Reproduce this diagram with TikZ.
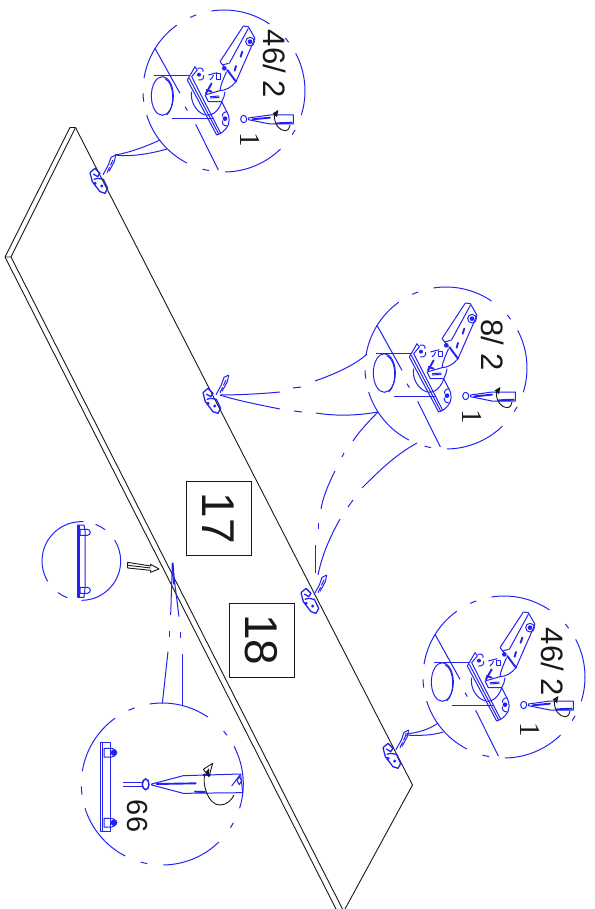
\documentclass[tikz,border=0pt]{standalone}
\usepackage{fontspec}
\setmainfont{Liberation Sans}
\newfontfamily\serifone{Liberation Serif}
\definecolor{hb}{RGB}{35,35,240}
\definecolor{ink}{RGB}{25,25,25}
\tikzset{
  bl/.style={draw=hb,line width=1pt,line join=round},
  blt/.style={draw=hb,line width=1.9pt,line cap=round},
  kk/.style={draw=ink,line width=.9pt,line join=round},
  numbox/.style={draw=ink,line width=.8pt,minimum width=74pt,minimum height=65pt,inner sep=0pt,rotate=-90,font=\fontsize{46}{46}\selectfont,text=ink},
  lab/.style={rotate=-90,text=ink,inner sep=0pt,font=\fontsize{31}{31}\selectfont},
  one/.style={rotate=-90,text=ink,inner sep=0pt,font=\serifone\fontsize{29}{29}\selectfont},
}
\newcommand{\dashring}[3]{%
  \foreach \a/\b in {-99/-55.8,-114.6/-110,-125.7/-170.9,172.5/178.3,162.6/117.2,100.6/105.4,89.3/45.7,28.6/32.6,17.4/-27.7,-40.8/-37}
    {\draw[bl] (#1,#2) ++(\a:#3pt) arc[start angle=\a,end angle=\b,radius=#3pt];}}
\newcommand{\bigfitting}[2]{%
  \dashring{#1}{#2}{81}
  \begin{scope}[shift={(#1,#2)},scale=1/3,shift={(-282,-273)}]
    % cup
    \draw[bl] (97,288) ellipse[x radius=33,y radius=58];
    \draw[bl] (105,236) .. controls (135,250) and (135,325) .. (110,345);
    \draw[bl] (72,228) -- (178,228);
    \draw[bl] (125,357) -- (250,357);
    \draw[bl] (75,145) -- (150,280);
    \draw[bl] (197,373) -- (265,510);
    % plate
    \draw[bl] (172,240) -- (195,200) -- (202,210) -- (185,230) -- (272,400) -- (260,405) -- cycle;
    \draw[bl] (178,235) -- (266,402);
    \draw[bl] (185,275) .. controls (180,300) and (195,335) .. (225,345);
    \draw[bl] (228,345) .. controls (250,350) and (270,325) .. (275,305) .. controls (280,295) and (285,285) .. (285,275);
    \draw[bl] (275,305) -- (295,345) .. controls (302,365) and (295,385) .. (272,400);
    \draw[bl] (165,320) -- (172,332);
    \fill[hb] (207,224) circle[radius=6];
    \fill[hb] (285,356) circle[radius=7];
    \draw[bl] (203,205) .. controls (218,200) and (222,212) .. (218,215);
    \draw[bl] (205,240) .. controls (218,242) and (224,232) .. (220,226);
    \draw[bl] (292,335) .. controls (280,335) and (275,345) .. (278,350);
    \draw[bl] (292,378) .. controls (280,378) and (275,370) .. (278,362);
    % link and arm
    \draw[bl] (235,225) -- (262,218);
    \draw[bl] (240,240) .. controls (240,232) and (248,240) .. (250,225);
    \draw[bl] (258,222) rectangle (272,238);
    \draw[bl] (270,185) -- (340,78) -- (355,80) -- (375,115) -- (318,245);
    \draw[bl] (270,185) -- (282,200);
    \draw[bl] (355,85) -- (298,190);
    \draw[blt] (292,210) -- (318,245);
    \fill[hb] (283,205) circle[radius=7];
    \draw[bl] (277,195) -- (296,190);
    \fill[hb] (360,125) circle[radius=7];
    \draw[bl] (360,125) circle[radius=13];
    \draw[blt] (337,155) -- (332,170);
    \draw[blt] (318,198) -- (314,212);
    \draw[bl] (318,245) .. controls (305,262) and (285,272) .. (270,272) -- (225,285);
    \draw[bl] (225,285) -- (235,305) -- (275,305);
    \draw[bl] (290,215) .. controls (280,235) and (270,262) .. (270,272);
    \draw[blt] (245,250) -- (228,280);
    \draw[blt] (230,270) -- (245,275);
    \draw[bl] (240,290) -- (268,288);
    \draw[bl] (240,294) -- (268,292);
    % drill
    \draw[bl] (341,357) ellipse[x radius=9,y radius=11];
    \draw[bl] (355,354) -- (420,345) -- (490,345) -- (490,372) -- (420,372) -- (355,359) -- cycle;
    \draw[blt] (368,358) -- (420,353);
    \draw[blt] (440,370) -- (485,368);
    \draw[kk] (433,345) .. controls (432,375) and (450,392) .. (465,392) .. controls (475,392) and (480,382) .. (480,375);
    \fill[ink] (428,340) -- (445,330) -- (441,352) -- cycle;
  \end{scope}}
\newcommand{\tinyhinge}[2]{%
  \begin{scope}[shift={(#1,#2)},scale=1/3,shift={(-36,-105)}]
    \draw[draw=hb,line width=1.3pt,line join=round] (15,68) -- (30,55) -- (45,70) -- (38,80) -- (25,72);
    \draw[draw=hb,line width=1.3pt,line join=round] (15,68) -- (22,95) -- (45,125) -- (60,130) -- (68,115) -- (55,88) -- (38,85) -- (26,88);
    \fill[hb] (30,100) circle[radius=5];
    \fill[hb] (50,108) circle[radius=5];
    \draw[bl] (54,74) -- (70,45) -- (78,22) -- (92,15);
    \draw[bl] (92,15) -- (88,35) -- (72,64);
    \draw[bl,dashed,dash pattern=on 6pt off 2pt] (66,68) -- (85,28);
  \end{scope}}
\begin{document}
\begin{tikzpicture}[x=1pt,y=1pt,yscale=-1]
\useasboundingbox (0,0) rectangle (594,909);
% panel
\draw[kk] (70,127.5) -- (75.5,127.5) -- (412.5,785) -- (345,909);
\draw[kk] (70,127.5) -- (5,257) -- (336,909);
\draw[kk] (75.5,127.5) -- (11,257) -- (5,257);
\draw[kk] (11,257) -- (342.5,909);
% number boxes
\node[numbox] (n17) at (218.8,518.5) {17};
\node[numbox] (n18) at (261.5,640) {18};
% hinges on the panel
\tinyhinge{97}{185}
\tinyhinge{210}{405}
\tinyhinge{308}{605}
\tinyhinge{390}{760}
% magnified fittings
\bigfitting{224}{91}
\bigfitting{446}{368}
\bigfitting{504}{677}
\node[lab] (t1) at (275,64) {46/\kern8pt 2};
\node[one] (o1) at (250,140) {1};
\node[lab] (t2) at (493,345) {8/\kern8pt 2};
\node[one] (o2) at (472,417) {1};
\node[lab] (t3) at (553,662) {46/\kern8pt 2};
\node[one] (o3) at (530,730) {1};
% connectors, fitting 1
\draw[bl] (115,155) .. controls (128,153) and (145,147) .. (160,140);
\draw[bl] (115,155) .. controls (130,157) and (150,154) .. (167,149);
% connectors, fitting 2
\draw[bl] (220,395) .. controls (235,395) and (260,394) .. (280,392);
\draw[bl] (293,388) -- (301,387);
\draw[bl] (315,381) .. controls (335,374) and (355,365) .. (367,354);
\draw[bl] (220,395) .. controls (235,400) and (260,405) .. (280,409);
\draw[bl] (294,411) -- (302,412);
\draw[bl] (316,413) .. controls (335,416) and (355,416) .. (378,412);
% connectors, fitting 2 to the third hinge
\draw[bl] (378,412) .. controls (368,422) and (358,433) .. (353,441);
\draw[bl] (344,453) -- (342,457);
\draw[bl] (335,471) .. controls (328,485) and (323,497) .. (321,509);
\draw[bl] (318,523) -- (318,529);
\draw[bl] (315,545) -- (315,573);
\draw[bl] (417,443) .. controls (395,455) and (378,472) .. (362,488);
\draw[bl] (353,500) -- (348,507);
\draw[bl] (340,519) .. controls (330,537) and (322,555) .. (318,575);
% connectors, fitting 3
\draw[bl] (405,734) .. controls (418,733) and (430,729) .. (438,723);
\draw[bl] (405,735) .. controls (420,736) and (435,735) .. (443,732);
% handle, in the coordinates of its crop
\begin{scope}[shift={(30,510)},scale=1/3]
  % small circle
  \foreach \a/\b in {-52.6/-68.7,-87/-211.3,126.6/111,89.5/-32}
    {\draw[bl] (154,153) ++(\a:118) arc[start angle=\a,end angle=\b,radius=118];}
  \draw[bl] (143,45) -- (162,45) -- (165,60) -- (165,235) -- (162,262) -- (143,262) -- cycle;
  \draw[blt] (146,47) -- (146,260);
  \draw[bl] (150,58) -- (172,58) arc[start angle=-90,end angle=90,radius=9] -- (150,76) -- cycle;
  \draw[bl] (150,232) -- (172,232) arc[start angle=-90,end angle=90,radius=9] -- (150,250) -- cycle;
  % open arrow
  \draw[kk] (293,157) -- (362,168) -- (362,163) -- (387,177) -- (362,187) -- (362,181) -- (293,174) -- cycle;
  \draw[kk] (295,166) -- (362,174);
  % thin part on the panel
  \draw[blt] (428,160) -- (432,222);
  \draw[bl] (427,162) -- (422,315);
  \draw[bl] (418,362) -- (418,380);
  \draw[bl] (414,425) -- (397,580);
  \draw[bl] (427,162) -- (447,320);
  \draw[bl] (452,365) -- (452,385);
  \draw[bl] (456,432) -- (456,585);
\end{scope}
\dashring{162.3}{784}{81}
\begin{scope}[shift={(30,510)},scale=1/3]
  \draw[bl] (210,697) -- (242,697) -- (242,965) -- (210,965) -- cycle;
  \draw[bl] (218,697) -- (218,965);
  \draw[bl] (222,715) -- (245,715) arc[start angle=-90,end angle=90,radius=13] -- (222,741) -- cycle;
  \draw[bl] (222,925) -- (245,925) arc[start angle=-90,end angle=90,radius=13] -- (222,951) -- cycle;
  \fill[hb] (252,728) circle[radius=10];
  \fill[hb] (252,938) circle[radius=10];
  \draw[bl] (280,818) -- (335,818);
  \draw[bl] (280,830) -- (335,830);
  \draw[line width=1.5pt,draw=hb] (347,823) ellipse[x radius=10,y radius=16];
  \draw[bl] (365,822) -- (460,797) -- (632,792) -- (638,848) -- (460,850) -- (365,825) -- cycle;
  \draw[blt] (380,822) -- (497,820);
  \draw[blt] (495,845) -- (525,846);
  \draw[blt] (520,796) -- (540,796);
  \draw[bl] (605,828) -- (630,795);
  \draw[bl] (628,800) -- (635,812) -- (628,824) -- (621,812) -- cycle;
  \draw[kk] (525,790) .. controls (515,825) and (535,885) .. (570,885) .. controls (590,885) and (605,870) .. (612,855);
  \draw[kk] (520,778) -- (548,760) -- (537,800) -- cycle;
  \fill[ink] (528,785) -- (537,775) -- (537,800) -- cycle;
\end{scope}
\node[lab,font=\fontsize{29}{29}\selectfont] (t66) at (137,816) {66};
\end{tikzpicture}
\end{document}
